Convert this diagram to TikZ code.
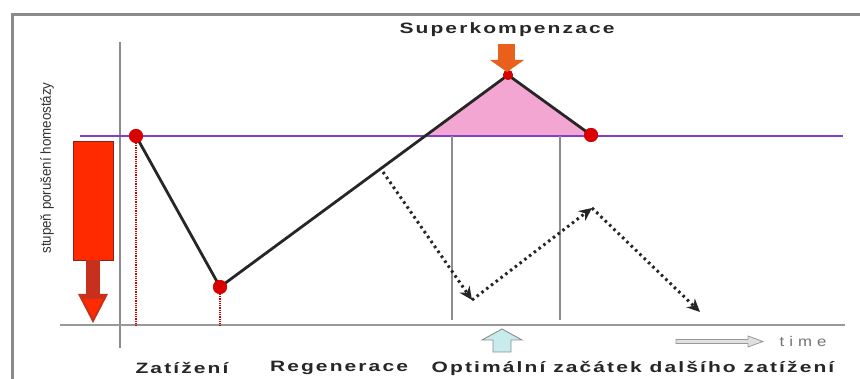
\documentclass[tikz,border=0pt]{standalone}
\usepackage{fontspec}
\setmainfont{Liberation Sans}
\newfontfamily\lblfont[LetterSpace=10]{Liberation Sans}
\newfontfamily\timefont[LetterSpace=30]{Liberation Sans}
\newfontfamily\yfont{Liberation Sans}
\newcommand{\widetext}[1]{\scalebox{1.4}[1]{#1}}
\usetikzlibrary{arrows.meta}
\definecolor{redfill}{HTML}{FF2A00}
\definecolor{darkred}{HTML}{C8301E}
\definecolor{purpl}{HTML}{8040C8}
\definecolor{pinkf}{HTML}{F4A6D2}
\definecolor{orangea}{HTML}{E8601C}
\definecolor{lightcyan}{HTML}{C8ECEE}
\definecolor{framegray}{HTML}{8A8A8A}
\tikzset{
  dot/.style={circle, fill=red!85!black, inner sep=0pt, minimum size=14pt},
  smalldot/.style={circle, fill=red!85!black, inner sep=0pt, minimum size=10pt},
  mainline/.style={line width=2.8pt, black!85},
  guide/.style={line width=1.3pt, black!45},
  reddot/.style={red!80!black, line width=1.6pt, dash pattern=on 0.8pt off 1pt},
  dotarrow/.style={line width=3pt, black!85, dash pattern=on 2.5pt off 3.5pt, -{Stealth[length=13pt,width=12pt]}},
  lbl/.style={font=\lblfont\bfseries\fontsize{15}{17}\selectfont, text=black!85, inner sep=0pt}
}
\begin{document}
\begin{tikzpicture}[x=1pt,y=-1pt]
\useasboundingbox (0,0) rectangle (860,379);
% frame
\draw[framegray, line width=3pt] (12,379) -- (12,15) -- (860,15);
% axes
\draw[guide] (120,42) -- (120,348);
\draw[guide, black!40] (60,325) -- (845,325);
% pink triangle
\coordinate (cross) at (425,136);
\coordinate (pk) at (508,75);
\coordinate (endp) at (591,135);
\fill[pinkf] (cross) -- (pk) -- (endp) -- cycle;
% homeostasis line
\draw[purpl, line width=2pt] (80,136) -- (843,136);
% red bar and arrow
\fill[redfill] (73,141) rectangle (113,260);
\draw[darkred!70!black, line width=0.6pt] (73,141) rectangle (113,260);
\fill[darkred] (86,260) rectangle (100,298);
\fill[darkred] (78,294) -- (108,294) -- (93,323) -- cycle;
\fill[redfill] (83,299) -- (103,299) -- (93,318) -- cycle;
% guide verticals
\draw[guide] (452,136) -- (452,320);
\draw[guide] (560,136) -- (560,320);
% dotted red verticals
\draw[reddot] (136,143) -- (136,325);
\draw[reddot] (220,294) -- (220,325);
% main curve
\node[dot] (d1) at (136,136) {};
\node[dot] (d2) at (220,287) {};
\node[smalldot] (d3) at (pk) {};
\node[dot] (d4) at (endp) {};
\draw[mainline, line join=round] (d1.center) -- (d2.center) -- (d3.center) -- (d4.center);
\node[dot] at (136,136) {};
\node[dot] at (220,287) {};
\node[smalldot] at (pk) {};
\node[dot] at (endp) {};
% orange arrow
\fill[orangea] (498,44) rectangle (515,61);
\fill[orangea] (490,60) -- (524,60) -- (507,72) -- cycle;
\node[lbl] (sk) at (507,30) {\widetext{Superkompenzace}};
% dotted arrows
\coordinate (a0) at (383,172);
\coordinate (a1) at (472,300);
\coordinate (a2) at (592,208);
\coordinate (a3) at (700,312);
\draw[dotarrow] (a0) -- (a1);
\draw[dotarrow] (a1) -- (a2);
\draw[dotarrow] (a2) -- (a3);
% light blue arrow
\draw[black!45, fill=lightcyan, line width=0.9pt] (493,352) -- (511,352) -- (511,340) -- (522,340) -- (502,329) -- (482,340) -- (493,340) -- cycle;
% time arrow
\draw[black!40, fill=black!12, line width=0.8pt] (676,339.5) -- (748,339.5) -- (748,336) -- (763,341.5) -- (748,347) -- (748,343.5) -- (676,343.5) -- cycle;
\node[font=\timefont\fontsize{14}{16}\selectfont, text=black!55, inner sep=0pt] (tm) at (803,341) {\scalebox{1.2}[1]{time}};
% bottom labels
\node[lbl] (l1) at (182,368) {\widetext{Zatížení}};
\node[lbl] (l2) at (339,368) {\widetext{Regenerace}};
\node[lbl] (l3) at (633,368) {\widetext{Optimální začátek dalšího zatížení}};
% y label
\node[rotate=90, font=\yfont\fontsize{14.5}{16}\selectfont, text=black!80, inner sep=0pt] (yl) at (47,168) {\scalebox{0.92}[1]{stupeň porušení homeostázy}};
\end{tikzpicture}
\end{document}
